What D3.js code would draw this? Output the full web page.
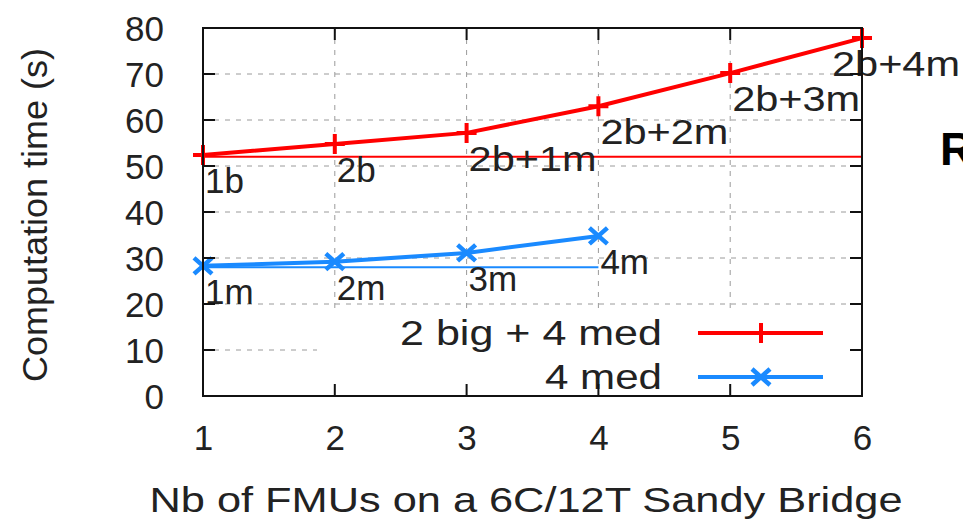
<!DOCTYPE html>
<html lang="en">
<head>
<meta charset="UTF-8">
<title>Computation time</title>
<script src="https://cdn.jsdelivr.net/npm/d3@7"></script>
<style>
  body{margin:0;background:#fff;}
  text{font-family:"Liberation Sans",Arial,sans-serif;fill:#222;}
</style>
</head>
<body>
<div id="chart"></div>
<script>
// data
var fmus = [1, 2, 3, 4, 5, 6];
var bigMedTimes = [52.4, 54.8, 57.2, 63.0, 70.2, 77.8];
var bigMedLabels = ["1b", "2b", "2b+1m", "2b+2m", "2b+3m", "2b+4m"];
var medFmus = [1, 2, 3, 4];
var medTimes = [28.3, 29.2, 31.1, 34.8];
var medLabels = ["1m", "2m", "3m", "4m"];
var bigMedRef = 52.0, medRef = 28.0;
var xTicks = [1, 2, 3, 4, 5, 6];
var yTicks = [0, 10, 20, 30, 40, 50, 60, 70, 80];
var seriesNames = ["2 big + 4 med", "4 med"];

var W = 963, H = 521;
var plot = {left: 203, right: 862, top: 28, bottom: 396};
var red = "#ff0000", blue = "#1a8aff";

var svg = d3.select("#chart").append("svg")
    .attr("width", W).attr("height", H);

var x = d3.scaleLinear().domain([1, 6]).range([plot.left, plot.right]);
var y = d3.scaleLinear().domain([0, 80]).range([plot.bottom, plot.top]);

// grid
var grid = svg.append("g").attr("stroke", "#9a9a9a").attr("stroke-width", 1)
    .attr("stroke-dasharray", "5,6");
grid.selectAll(".gy").data(yTicks.slice(1, -1)).enter().append("line")
    .attr("x1", plot.left).attr("x2", plot.right)
    .attr("y1", d => y(d)).attr("y2", d => y(d));
grid.selectAll(".gx").data(xTicks.slice(1, -1)).enter().append("line")
    .attr("x1", d => x(d)).attr("x2", d => x(d))
    .attr("y1", plot.top).attr("y2", plot.bottom);

// legend background hides the grid under the key
svg.append("rect").attr("x", 317).attr("y", 310)
    .attr("width", plot.right - 317).attr("height", plot.bottom - 310)
    .attr("fill", "#fff");

// reference lines
svg.append("line").attr("x1", x(1)).attr("x2", x(6))
    .attr("y1", y(bigMedRef)).attr("y2", y(bigMedRef))
    .attr("stroke", red).attr("stroke-width", 2);
svg.append("line").attr("x1", x(1)).attr("x2", x(4))
    .attr("y1", y(medRef)).attr("y2", y(medRef))
    .attr("stroke", blue).attr("stroke-width", 2);

var line = d3.line().x(d => x(d[0])).y(d => y(d[1]));
var redPts = d3.zip(fmus, bigMedTimes);
var bluePts = d3.zip(medFmus, medTimes);

svg.append("path").datum(redPts).attr("d", line)
    .attr("fill", "none").attr("stroke", red).attr("stroke-width", 4);
svg.append("path").datum(bluePts).attr("d", line)
    .attr("fill", "none").attr("stroke", blue).attr("stroke-width", 4);

function plus(g, cx, cy, c){
    g.append("path").attr("d", "M" + (cx - 10) + "," + cy + "h20M" + cx + "," + (cy - 10) + "v20")
        .attr("stroke", c).attr("stroke-width", 4).attr("fill", "none");
}
function cross(g, cx, cy, c){
    g.append("path").attr("d", "M" + (cx - 9) + "," + (cy - 8) + "L" + (cx + 9) + "," + (cy + 8) +
        "M" + (cx - 9) + "," + (cy + 8) + "L" + (cx + 9) + "," + (cy - 8))
        .attr("stroke", c).attr("stroke-width", 4.5).attr("fill", "none");
}
redPts.forEach(p => plus(svg, x(p[0]), y(p[1]), red));
bluePts.forEach(p => cross(svg, x(p[0]), y(p[1]), blue));

// point labels, just below each point
function pointLabels(pts, labels){
    pts.forEach(function(p, i){
        var t = svg.append("text").attr("font-size", 35).text(labels[i]);
        if (labels[i].indexOf("+") >= 0)
            t.attr("textLength", 128).attr("lengthAdjust", "spacingAndGlyphs");
        var w = labels[i].indexOf("+") >= 0 ? 128 : t.node().getComputedTextLength();
        var px = Math.min(x(p[0]) + 2, W - 3 - w);
        t.attr("x", px).attr("y", y(p[1]) + 38);
    });
}
pointLabels(redPts, bigMedLabels);
pointLabels(bluePts, medLabels);

// legend
var legend = [
    {name: seriesNames[0], color: red, mark: plus, y: 333},
    {name: seriesNames[1], color: blue, mark: cross, y: 377}
];
var lw = [262, 117];
legend.forEach(function(d, i){
    svg.append("text").attr("x", 662).attr("y", d.y + 12)
        .attr("text-anchor", "end").attr("font-size", 35)
        .attr("textLength", lw[i]).attr("lengthAdjust", "spacingAndGlyphs")
        .text(d.name);
    svg.append("line").attr("x1", 698).attr("x2", 823).attr("y1", d.y).attr("y2", d.y)
        .attr("stroke", d.color).attr("stroke-width", 4);
    d.mark(svg, 761, d.y, d.color);
});

// frame and ticks
var frame = svg.append("g").attr("stroke", "#111").attr("stroke-width", 2).attr("fill", "none");
frame.append("rect").attr("x", plot.left).attr("y", plot.top)
    .attr("width", plot.right - plot.left).attr("height", plot.bottom - plot.top);
var tk = 12;
yTicks.forEach(function(v){
    frame.append("line").attr("x1", plot.left).attr("x2", plot.left + tk).attr("y1", y(v)).attr("y2", y(v));
    frame.append("line").attr("x1", plot.right - tk).attr("x2", plot.right).attr("y1", y(v)).attr("y2", y(v));
});
xTicks.forEach(function(v){
    frame.append("line").attr("x1", x(v)).attr("x2", x(v)).attr("y1", plot.bottom).attr("y2", plot.bottom - tk);
    frame.append("line").attr("x1", x(v)).attr("x2", x(v)).attr("y1", plot.top).attr("y2", plot.top + tk);
});

// tick labels via d3 axes
var yAxis = svg.append("g").attr("transform", "translate(" + (plot.left - 39) + ",0)")
    .call(d3.axisLeft(y).tickValues(yTicks).tickSize(0).tickPadding(0));
yAxis.select(".domain").remove();
yAxis.selectAll("text").attr("font-size", 35).attr("font-family", null)
    .attr("dy", 12).attr("fill", "#222");

var xAxis = svg.append("g").attr("transform", "translate(0," + plot.bottom + ")")
    .call(d3.axisBottom(x).tickValues(xTicks).tickSize(0).tickPadding(0).tickFormat(d3.format("d")));
xAxis.select(".domain").remove();
xAxis.selectAll("text").attr("font-size", 35).attr("font-family", null)
    .attr("dy", null).attr("y", 54).attr("fill", "#222");

// axis titles
svg.append("text").attr("x", 526).attr("y", 512).attr("text-anchor", "middle")
    .attr("font-size", 35).attr("textLength", 753).attr("lengthAdjust", "spacingAndGlyphs")
    .text("Nb of FMUs on a 6C/12T Sandy Bridge");
svg.append("text").attr("transform", "translate(47,215) rotate(-90)")
    .attr("text-anchor", "middle").attr("font-size", 35)
    .attr("textLength", 334).attr("lengthAdjust", "spacingAndGlyphs")
    .text("Computation time (s)");

// cut-off letter at the right edge
svg.append("text").attr("x", 940).attr("y", 165).attr("font-size", 46)
    .attr("font-weight", "bold").style("fill", "#000").text("R");
</script>
</body>
</html>
